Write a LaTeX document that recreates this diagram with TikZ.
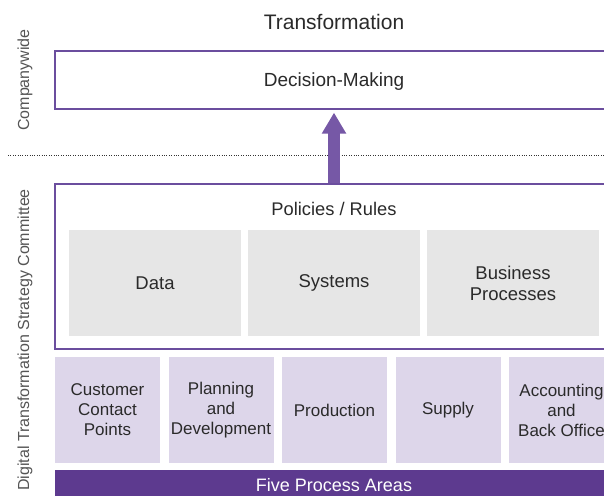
\documentclass[tikz,border=0pt]{standalone}
\usepackage{fontspec}
\setmainfont{Liberation Sans}
\usetikzlibrary{arrows.meta}
\definecolor{bordpurple}{HTML}{6B4E9E}
\definecolor{arrowpurple}{HTML}{7658A6}
\definecolor{barpurple}{HTML}{5D3A8F}
\definecolor{lav}{HTML}{DDD6EA}
\definecolor{graybox}{HTML}{E6E6E6}
\definecolor{txt}{HTML}{2A2A2A}
\definecolor{sidetxt}{HTML}{555555}
\tikzset{
  outerbox/.style={draw=bordpurple, line width=1.2pt, fill=white, inner sep=0pt},
  graycell/.style={fill=graybox, minimum width=172pt, minimum height=106pt, inner sep=0pt,
    text=txt, font=\fontsize{18.5}{21}\selectfont, align=center},
  proccell/.style={fill=lav, minimum width=105pt, minimum height=106pt, inner sep=0pt,
    text=txt, font=\fontsize{17}{20}\selectfont, align=center},
  sidelabel/.style={rotate=90, text=sidetxt, font=\fontsize{16}{18}\selectfont},
  plainlabel/.style={text=txt, inner sep=0pt},
}
\begin{document}
\begin{tikzpicture}[x=1pt,y=-1pt]
\useasboundingbox (0,0) rectangle (604,495);
\clip (0,0) rectangle (604,495);
% title
\node[plainlabel, font=\fontsize{21}{24}\selectfont] (title) at (334,22) {Transformation};
% decision box
\node[outerbox, minimum width=557pt, minimum height=58pt] (dec) at (333.5,80) {};
\node[plainlabel, font=\fontsize{19}{22}\selectfont] (dectxt) at (334,81.5) {Decision-Making};
% dotted separator
\coordinate (dl) at (8,155);
\coordinate (dr) at (604,155);
\draw[line width=0.8pt, black!80, dash pattern=on 0.8pt off 1.6pt] (dl) -- (dr);
% policies box
\node[outerbox, minimum width=557pt, minimum height=165pt] (pol) at (333.5,266.5) {};
\node[plainlabel, font=\fontsize{18.3}{20}\selectfont] (rules) at (334,209) {Policies / Rules};
\node[graycell] (data) at (155,283) {Data};
\node[graycell] (sys) at (334,283) {Systems};
\node[graycell] (bp) at (513,283) {Business\\Processes};
% arrow
\draw[arrowpurple, line width=12pt, -{Triangle[length=21pt,width=23pt]}]
  (pol.north -| dectxt.center) -- ([yshift=-3pt]dec.south -| dectxt.center);
% process areas
\node[proccell] (p1) at (107.5,410) {Customer\\Contact\\Points};
\node[proccell] (p2) at (221,410) {Planning\\and\\Development};
\node[proccell] (p3) at (334.5,410) {Production};
\node[proccell] (p4) at (448,410) {Supply};
\node[proccell] (p5) at (561.5,410) {Accounting\\and\\Back Office};
% bar
\node[fill=barpurple, minimum width=557pt, minimum height=30pt, inner sep=0pt] (bar) at (333.5,485) {};
\node[text=white, font=\fontsize{18}{20}\selectfont, inner sep=0pt] (bartxt) at (334,485.5) {Five Process Areas};
% side labels
\node[sidelabel] (cw) at (25,80) {Companywide};
\node[sidelabel] (dts) at (25,340) {Digital Transformation Strategy Committee};
\end{tikzpicture}
\end{document}
